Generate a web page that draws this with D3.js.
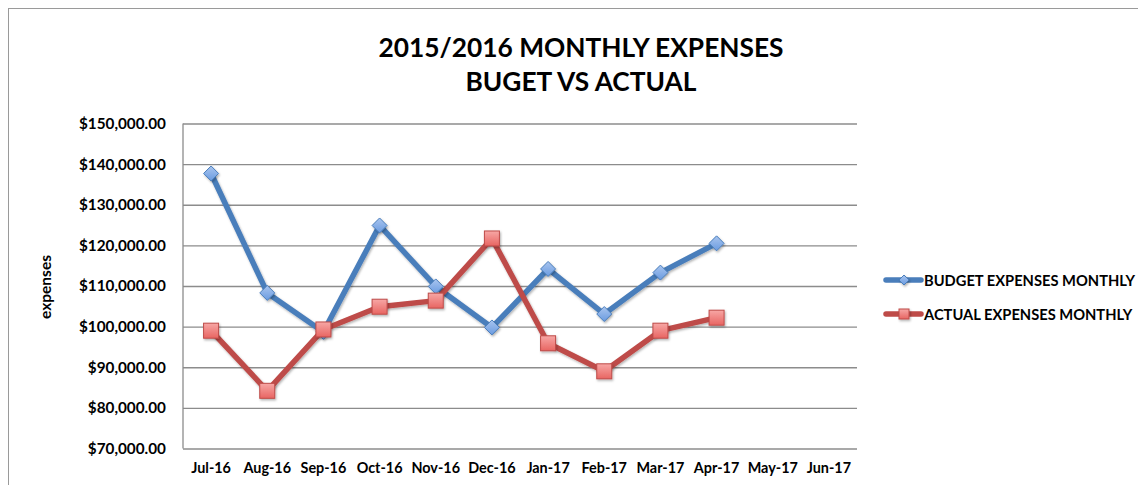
<!DOCTYPE html>
<html><head><meta charset="utf-8">
<script src="https://cdn.jsdelivr.net/npm/d3@7"></script>
<style>body{margin:0;background:#fff;} svg{display:block;font-family:Lato,"Open Sans",sans-serif;}</style>
</head><body>
<svg id="chart" width="1138" height="485"></svg>
<script>
const months = ["Jul-16","Aug-16","Sep-16","Oct-16","Nov-16","Dec-16","Jan-17","Feb-17","Mar-17","Apr-17","May-17","Jun-17"];
const budget = [137700,108300,98700,124900,109900,99800,114200,103100,113300,120500,null,null];
const actual = [99000,84200,99300,104900,106400,121700,95900,89000,99000,102200,null,null];
const yTicks = [70000,80000,90000,100000,110000,120000,130000,140000,150000];
const seriesNames = ["BUDGET EXPENSES MONTHLY","ACTUAL EXPENSES MONTHLY"];
const titleLines = ["2015/2016 MONTHLY EXPENSES","BUGET VS ACTUAL"];

const svg = d3.select("#chart");
const defs = svg.append("defs");
const f = defs.append("filter").attr("id","sh").attr("x","-50%").attr("y","-50%").attr("width","200%").attr("height","200%");
f.append("feDropShadow").attr("dx",1).attr("dy",1.5).attr("stdDeviation",1.2).attr("flood-color","#000").attr("flood-opacity",0.3);
const gb = defs.append("linearGradient").attr("id","gb").attr("x1",0).attr("y1",0).attr("x2",0).attr("y2",1);
gb.append("stop").attr("offset","0%").attr("stop-color","#a9c5ef");
gb.append("stop").attr("offset","100%").attr("stop-color","#6a9be0");
const gr = defs.append("linearGradient").attr("id","gr").attr("x1",0).attr("y1",0).attr("x2",0).attr("y2",1);
gr.append("stop").attr("offset","0%").attr("stop-color","#f7a7a5");
gr.append("stop").attr("offset","100%").attr("stop-color","#e86562");

// outer border
svg.append("rect").attr("x",8.5).attr("y",8.5).attr("width",1140).attr("height",490)
  .attr("fill","none").attr("stroke","#9a9a9a").attr("stroke-width",1);

const pL = 183, pR = 857, pT = 123.5, pB = 448.5;
const x = d3.scaleBand().domain(months).range([pL,pR]);
const y = d3.scaleLinear().domain([70000,150000]).range([pB,pT]);

// gridlines
svg.append("g").attr("transform",`translate(${pL},0)`)
  .call(d3.axisLeft(y).tickValues(yTicks).tickSize(-(pR-pL)).tickFormat(""))
  .call(g=>g.select(".domain").remove())
  .call(g=>g.selectAll("line").attr("stroke","#8c8c8c").attr("stroke-width",1.3));

// axis line
svg.append("line").attr("x1",pL).attr("x2",pL).attr("y1",pT).attr("y2",pB).attr("stroke","#8c8c8c").attr("stroke-width",1.3);

// y labels
const fmt = v => "$" + d3.format(",.2f")(v);
svg.append("g").attr("transform",`translate(${pL},0)`)
  .call(d3.axisLeft(y).tickValues(yTicks).tickSize(0).tickPadding(17).tickFormat(fmt))
  .call(g=>g.select(".domain").remove())
  .call(g=>g.selectAll("text").attr("font-family","Lato,sans-serif").attr("font-size",15.3).attr("font-weight","bold").attr("fill","#000"));

// x labels
svg.append("g").attr("transform",`translate(0,${pB})`)
  .call(d3.axisBottom(x).tickSize(0).tickPadding(14))
  .call(g=>g.select(".domain").remove())
  .call(g=>g.selectAll("text").attr("font-family","Lato,sans-serif").attr("font-size",14.4).attr("font-weight","bold").attr("fill","#000"));

// y axis title
svg.append("text").attr("transform","translate(51,287) rotate(-90)").attr("text-anchor","middle")
  .attr("font-size",15.5).attr("font-weight","bold").text("expenses");

// title
svg.append("text").attr("x",581).attr("y",57).attr("text-anchor","middle").attr("font-size",26.3).attr("font-weight","bold").text(titleLines[0]);
svg.append("text").attr("x",581).attr("y",91).attr("text-anchor","middle").attr("font-size",26.3).attr("font-weight","bold").text(titleLines[1]);

const cx = d => x(d) + x.bandwidth()/2;
const line = d3.line().defined(d=>d.v!=null).x(d=>cx(d.m)).y(d=>y(d.v));
const bData = months.map((m,i)=>({m,v:budget[i]}));
const aData = months.map((m,i)=>({m,v:actual[i]}));
const blue = "#4a7ebb", red = "#be4b48";

svg.append("path").datum(bData).attr("d",line).attr("fill","none").attr("stroke",blue).attr("stroke-width",5.5).attr("stroke-linejoin","round").attr("filter","url(#sh)");
svg.append("path").datum(aData).attr("d",line).attr("fill","none").attr("stroke",red).attr("stroke-width",5.5).attr("stroke-linejoin","round").attr("filter","url(#sh)");

const diamond = (g, px, py, s) => g.append("path")
  .attr("d",`M${px},${py-s}L${px+s},${py}L${px},${py+s}L${px-s},${py}Z`)
  .attr("fill","url(#gb)").attr("stroke",blue).attr("stroke-width",1).attr("filter","url(#sh)");
const square = (g, px, py, s) => g.append("rect")
  .attr("x",px-s).attr("y",py-s).attr("width",2*s).attr("height",2*s)
  .attr("fill","url(#gr)").attr("stroke",red).attr("stroke-width",1).attr("filter","url(#sh)");

const mk = svg.append("g");
bData.filter(d=>d.v!=null).forEach(d=>diamond(mk,cx(d.m),y(d.v),7.5));
aData.filter(d=>d.v!=null).forEach(d=>square(mk,cx(d.m),y(d.v),7.5));

// legend
const lg = svg.append("g");
[[280,blue,"d"],[314,red,"s"]].forEach(([ly,c,t],i)=>{
  lg.append("line").attr("x1",886).attr("x2",921).attr("y1",ly).attr("y2",ly).attr("stroke",c).attr("stroke-width",5.5).attr("stroke-linecap","round");
  if(t==="d") diamond(lg,904,ly,5); else square(lg,904,ly,5);
  lg.append("text").attr("x",924).attr("y",ly+5.5).attr("font-size",14.7).attr("font-weight","bold").text(seriesNames[i]);
});
</script>
</body></html>
